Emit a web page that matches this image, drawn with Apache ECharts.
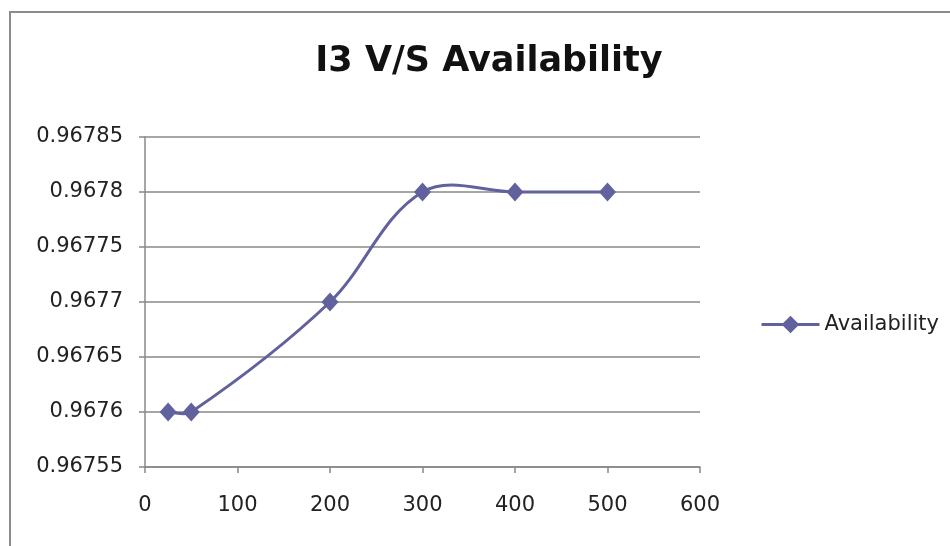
<!DOCTYPE html>
<html>
<head>
<meta charset="utf-8">
<script src="https://cdn.jsdelivr.net/npm/echarts@6/dist/echarts.min.js"></script>
<style>
  html, body { margin: 0; padding: 0; background: #fff; }
  #chart { width: 950px; height: 546px; }
</style>
</head>
<body>
<div id="chart"></div>
<script>
// I3 size (x) against availability (y)
const i3Sizes = [25, 50, 200, 300, 400, 500];
const availability = [0.9676, 0.9676, 0.9677, 0.9678, 0.9678, 0.9678];
const seriesName = 'Availability';
const titleText = 'I3 V/S Availability';

const lineColor = '#61619d';
const axisGray = '#888888';
const labelFont = '"DejaVu Sans", Verdana, sans-serif';

// Smoothed path through the points in pixel space: each point's tangent
// follows its neighbours, control arms are a third of the segment length.
function smoothSegments(pts) {
  const n = pts.length;
  const tangent = i => {
    const a = pts[Math.max(i - 1, 0)], b = pts[Math.min(i + 1, n - 1)];
    const dx = b[0] - a[0], dy = b[1] - a[1];
    const len = Math.hypot(dx, dy) || 1;
    return [dx / len, dy / len];
  };
  const segs = [];
  for (let i = 0; i < n - 1; i++) {
    const p = pts[i], q = pts[i + 1];
    const d = Math.hypot(q[0] - p[0], q[1] - p[1]) / 3;
    const t0 = tangent(i), t1 = tangent(i + 1);
    segs.push({
      type: 'bezierCurve',
      shape: {
        x1: p[0], y1: p[1], x2: q[0], y2: q[1],
        cpx1: p[0] + t0[0] * d, cpy1: p[1] + t0[1] * d,
        cpx2: q[0] - t1[0] * d, cpy2: q[1] - t1[1] * d
      },
      style: { stroke: lineColor, lineWidth: 3, fill: null }
    });
  }
  return segs;
}

const points = i3Sizes.map((x, i) => [x, availability[i]]);

const chart = echarts.init(document.getElementById('chart'));
chart.setOption({
  animation: false,
  backgroundColor: '#fff',
  title: {
    text: titleText,
    left: 484,
    textAlign: 'center',
    top: 39,
    textStyle: { fontFamily: labelFont, fontWeight: 'bold', fontSize: 35, color: '#111' }
  },
  graphic: [{
    type: 'rect',
    shape: { x: 10, y: 12, width: 1000, height: 1000 },
    style: { fill: 'none', stroke: '#8c8c8c', lineWidth: 2 },
    silent: true
  }],
  legend: {
    left: 760,
    top: 314,
    padding: 0,
    itemWidth: 58,
    itemHeight: 22,
    textStyle: { fontFamily: labelFont, fontSize: 21, color: '#222' },
    lineStyle: { color: lineColor, width: 3, opacity: 1 },
    data: [seriesName]
  },
  grid: { left: 145, top: 137, width: 555, height: 330 },
  xAxis: {
    type: 'value',
    min: 0, max: 600, interval: 100,
    axisLine: { show: true, lineStyle: { color: axisGray, width: 1.5 } },
    axisTick: { show: true, length: 6, lineStyle: { color: axisGray, width: 1.5 } },
    axisLabel: { margin: 28, fontFamily: labelFont, fontSize: 21, color: '#222' },
    splitLine: { show: false }
  },
  yAxis: {
    type: 'value',
    min: 0.96755, max: 0.96785, interval: 0.00005,
    axisLine: { show: true, lineStyle: { color: axisGray, width: 1.5 } },
    axisTick: { show: true, length: 6, lineStyle: { color: axisGray, width: 1.5 } },
    axisLabel: {
      margin: 22, fontFamily: labelFont, fontSize: 21, color: '#222',
      formatter: v => String(parseFloat(v.toFixed(5)))
    },
    splitLine: { show: true, lineStyle: { color: axisGray, width: 1.5 } }
  },
  series: [{
    name: 'curve',
    type: 'custom',
    coordinateSystem: 'cartesian2d',
    data: [[i3Sizes[0], availability[0]]],
    z: 2,
    silent: true,
    renderItem: (params, api) => ({
      type: 'group',
      children: smoothSegments(points.map(p => api.coord(p)))
    })
  }, {
    name: seriesName,
    type: 'line',
    data: points,
    z: 3,
    symbol: 'diamond',
    symbolSize: [17, 19],
    lineStyle: { color: lineColor, width: 3, opacity: 0 },
    itemStyle: { color: lineColor }
  }]
});
</script>
</body>
</html>
